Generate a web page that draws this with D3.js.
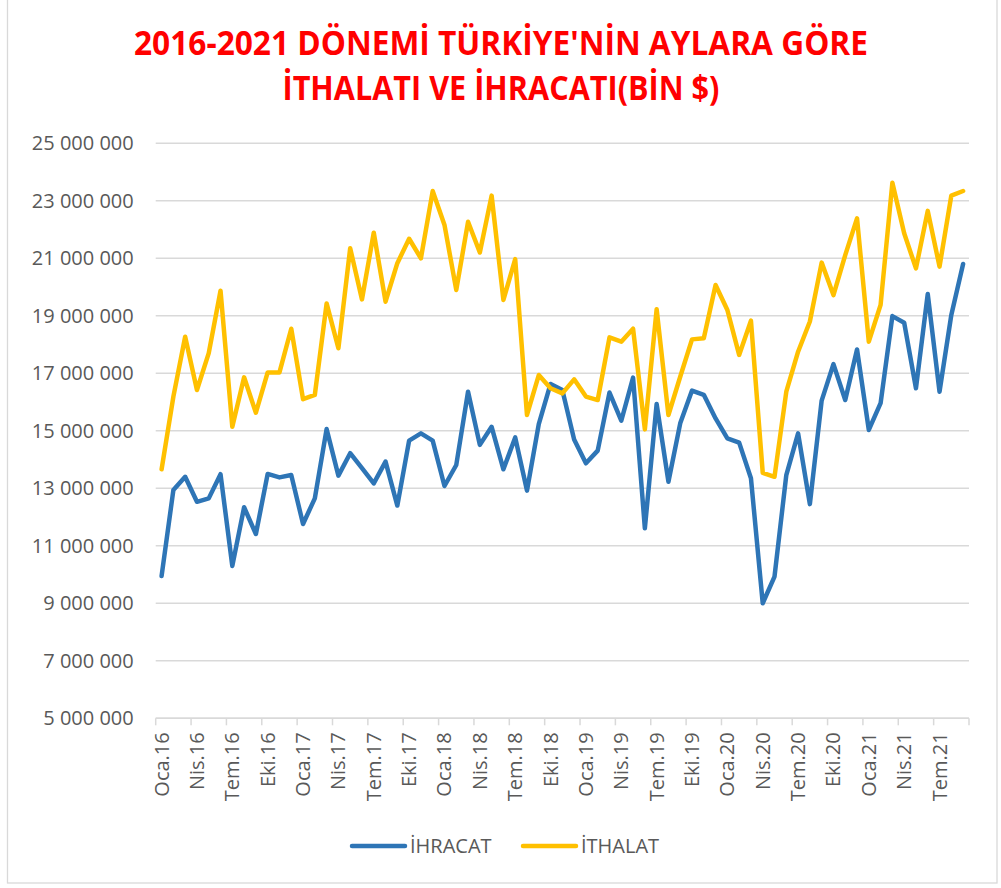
<!DOCTYPE html>
<html>
<head>
<meta charset="utf-8">
<script src="https://cdn.jsdelivr.net/npm/d3@7"></script>
<style>
  body { margin: 0; background: #fff; }
  svg { display: block; font-family: "Open Sans", sans-serif; }
</style>
</head>
<body>
<svg width="1001" height="888"></svg>
<script>
// months / years used for the category axis
const monthNames = ["Oca", "Şub", "Mar", "Nis", "May", "Haz", "Tem", "Ağu", "Eyl", "Eki", "Kas", "Ara"];
const years = ["16", "17", "18", "19", "20", "21"];
const lastMonthOf2021 = 9; // data goes up to Eyl.21

// thousand $ values
const ihracat = [9950000, 12940000, 13400000, 12530000, 12650000, 13490000, 10300000, 12340000, 11410000, 13500000,
  13380000, 13460000, 11760000, 12650000, 15060000, 13440000, 14220000, 13700000, 13170000, 13930000,
  12400000, 14660000, 14910000, 14660000, 13080000, 13810000, 16360000, 14510000, 15140000, 13660000,
  14770000, 12920000, 15230000, 16630000, 16420000, 14700000, 13870000, 14310000, 16330000, 15350000,
  16850000, 11610000, 15930000, 13230000, 15260000, 16400000, 16250000, 15430000, 14740000, 14590000,
  13350000, 9000000, 9930000, 13460000, 14910000, 12450000, 16050000, 17320000, 16070000, 17830000,
  15030000, 15960000, 18990000, 18760000, 16480000, 19760000, 16360000, 19030000, 20800000];

const ithalat = [13660000, 16190000, 18270000, 16420000, 17700000, 19870000, 15140000, 16860000, 15630000, 17030000,
  17030000, 18550000, 16100000, 16250000, 19430000, 17870000, 21350000, 19570000, 21890000, 19490000,
  20830000, 21680000, 21000000, 23340000, 22160000, 19900000, 22270000, 21200000, 23180000, 19550000,
  20970000, 15550000, 16940000, 16480000, 16300000, 16790000, 16190000, 16070000, 18250000, 18100000,
  18550000, 15050000, 19230000, 15550000, 16880000, 18180000, 18220000, 20070000, 19200000, 17640000,
  18830000, 13540000, 13400000, 16360000, 17750000, 18800000, 20850000, 19720000, 21110000, 22390000,
  18100000, 19380000, 23630000, 21870000, 20650000, 22650000, 20710000, 23180000, 23340000];

const yTicks = [5000000, 7000000, 9000000, 11000000, 13000000, 15000000, 17000000, 19000000, 21000000, 23000000, 25000000];
const seriesNames = ["İHRACAT", "İTHALAT"];
const colors = ["#2E75B6", "#FFC000"];

const categories = [];
years.forEach(y => monthNames.forEach((m, i) => {
  if (y === "21" && i >= lastMonthOf2021) return;
  categories.push(m + "." + y);
}));

const svg = d3.select("svg");
const plot = {left: 155.7, right: 969, top: 143.3, bottom: 718.3};

// outer chart border
svg.append("rect")
    .attr("x", 7.5).attr("y", -2)
    .attr("width", 989.5).attr("height", 885)
    .attr("fill", "none")
    .attr("stroke", "#D9D9D9")
    .attr("stroke-width", 1.3);

// title
const title = [
  {text: "2016-2021 DÖNEMİ TÜRKİYE'NİN AYLARA GÖRE", y: 55, len: 734},
  {text: "İTHALATI VE İHRACATI(BİN $)", y: 100, len: 437}
];
svg.append("g")
    .attr("fill", "#FF0000")
    .attr("font-weight", "bold")
    .attr("font-size", 34)
    .attr("text-anchor", "middle")
  .selectAll("text")
  .data(title)
  .join("text")
    .attr("x", 501)
    .attr("y", d => d.y)
    .attr("textLength", d => d.len)
    .attr("lengthAdjust", "spacingAndGlyphs")
    .text(d => d.text);

const x = d3.scaleBand()
    .domain(categories)
    .range([plot.left, plot.right])
    .padding(0);

const y = d3.scaleLinear()
    .domain([5000000, 25000000])
    .range([plot.bottom, plot.top]);

const fmt = d3.formatLocale({decimal: ",", thousands: " ", grouping: [3], currency: ["", ""]}).format(",d");

// gridlines
svg.append("g")
    .attr("stroke", "#D9D9D9")
    .attr("stroke-width", 1.5)
  .selectAll("line")
  .data(yTicks)
  .join("line")
    .attr("x1", plot.left)
    .attr("x2", plot.right)
    .attr("y1", d => y(d))
    .attr("y2", d => y(d));

// y axis labels
const yAxis = d3.axisLeft(y).tickValues(yTicks).tickFormat(fmt).tickSize(0).tickPadding(22);
svg.append("g")
    .attr("transform", `translate(${plot.left},0)`)
    .call(yAxis)
    .call(g => g.select(".domain").remove())
    .call(g => g.selectAll("text")
        .attr("fill", "#595959")
        .attr("font-size", 20)
        .attr("font-family", "Open Sans"));

// x axis: ticks between categories, labels every 3 months
const tickCats = categories.filter((d, i) => i % 3 === 0);
const xg = svg.append("g").attr("transform", `translate(0,${plot.bottom})`);
xg.append("line")
    .attr("x1", plot.left).attr("x2", plot.right)
    .attr("stroke", "#D9D9D9").attr("stroke-width", 1.5);
xg.selectAll("line.tick")
  .data(tickCats.map(c => x(c)).concat([plot.right]))
  .join("line")
    .attr("class", "tick")
    .attr("x1", d => d).attr("x2", d => d)
    .attr("y1", 0).attr("y2", 7)
    .attr("stroke", "#D9D9D9").attr("stroke-width", 1.5);
xg.selectAll("text")
  .data(tickCats)
  .join("text")
    .attr("transform", d => `translate(${x(d) + x.bandwidth() / 2},14) rotate(-90)`)
    .attr("text-anchor", "end")
    .attr("dy", "0.35em")
    .attr("fill", "#595959")
    .attr("font-size", 20)
    .text(d => d);

// lines
const line = d3.line()
    .x((d, i) => x(categories[i]) + x.bandwidth() / 2)
    .y(d => y(d));

svg.append("g")
  .selectAll("path")
  .data([ihracat, ithalat])
  .join("path")
    .attr("fill", "none")
    .attr("stroke", (d, i) => colors[i])
    .attr("stroke-width", 4.5)
    .attr("stroke-linejoin", "round")
    .attr("stroke-linecap", "round")
    .attr("d", line);

// legend
const legend = svg.append("g")
  .selectAll("g")
  .data(seriesNames)
  .join("g")
    .attr("transform", (d, i) => `translate(${352 + i * 171},846)`);
legend.append("line")
    .attr("x1", 0).attr("x2", 53)
    .attr("stroke", (d, i) => colors[i])
    .attr("stroke-width", 4.5)
    .attr("stroke-linecap", "round");
legend.append("text")
    .attr("x", 58)
    .attr("dy", "0.35em")
    .attr("fill", "#595959")
    .attr("font-size", 20)
    .text(d => d);
</script>
</body>
</html>
